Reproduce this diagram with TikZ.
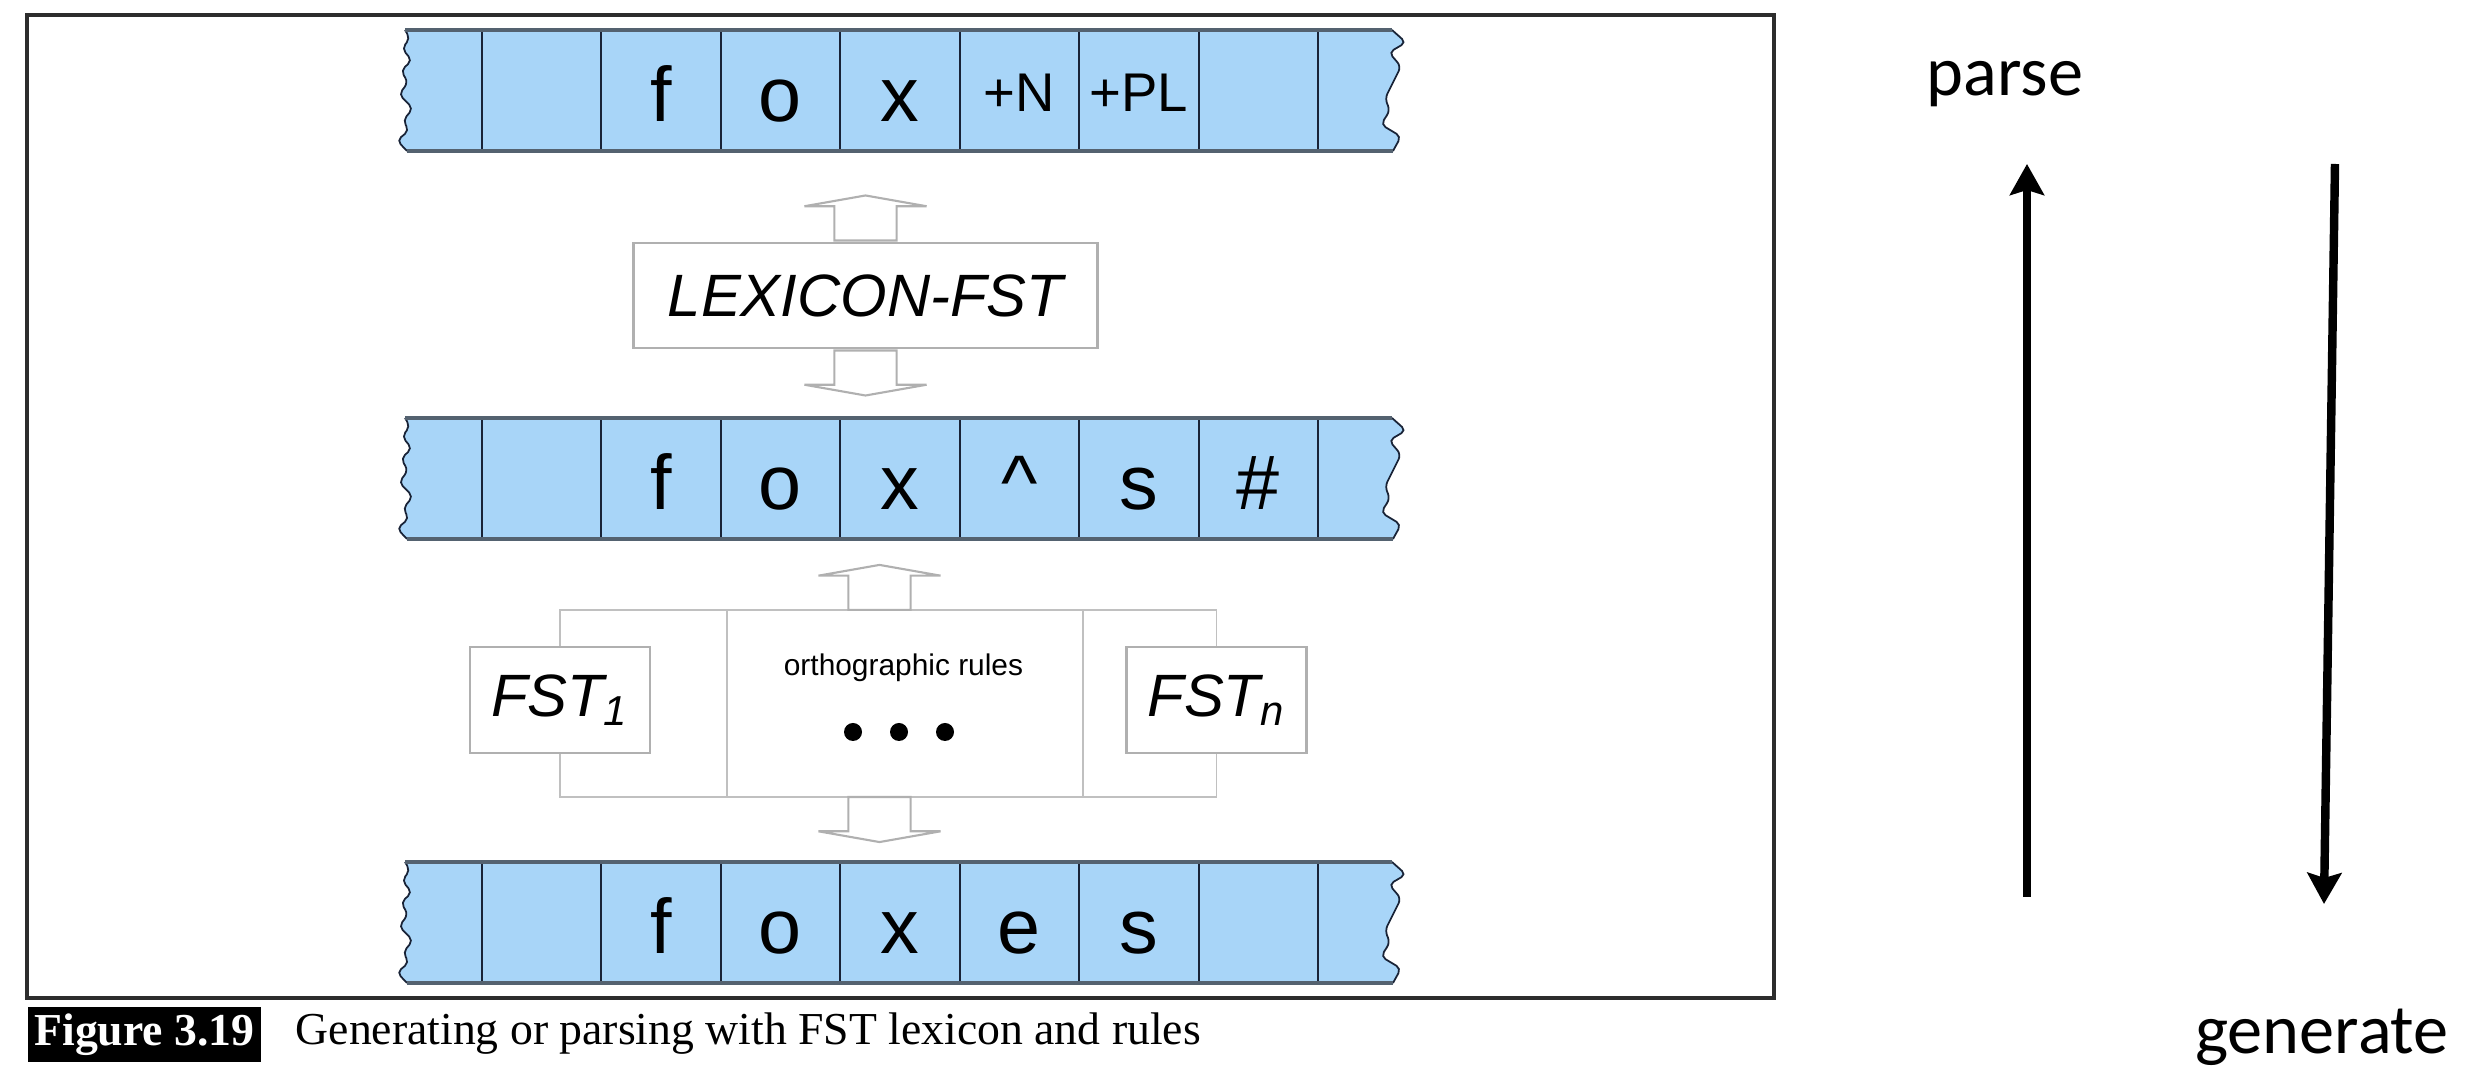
\documentclass[tikz,border=0pt]{standalone}
\usepackage{fontspec}
\setmainfont{Liberation Serif}
\newfontfamily\tapefont{Liberation Sans}
\newfontfamily\slidefont{Carlito}
\usetikzlibrary{shapes.arrows,arrows.meta}

\definecolor{tapeblue}{RGB}{168,213,248}
\definecolor{tapeedge}{RGB}{84,98,112}
\definecolor{cellline}{RGB}{25,35,55}
\definecolor{boxgray}{RGB}{176,176,176}
\definecolor{rulegray}{RGB}{192,192,192}
\definecolor{framegray}{RGB}{45,45,45}

\def\jagR{11/-48,-6/-38,6/-24,0/-12,-10/8,-5/20,-14/34,6/46}
\def\jagL{-8/50,4/40,-2/30,8/18,-6/4,3/-8,-4/-20,7/-30,-3/-42,5/-52}

\tikzset{
  sym/.style={font=\tapefont\fontsize{22}{22}\selectfont, anchor=base, inner sep=0pt},
  tag/.style={font=\tapefont\fontsize{15.5}{15.5}\selectfont, anchor=base, inner sep=0pt},
  fstbox/.style={draw=boxgray, line width=0.8pt, fill=white, inner sep=0pt,
    font=\tapefont\itshape\fontsize{17}{17}\selectfont},
  harrow/.style={single arrow, draw=boxgray, line width=0.6pt, inner xsep=0pt, inner ysep=0.3cm,
    single arrow head extend=0.3cm, single arrow tip angle=160, minimum height=0.45cm, anchor=tail},
  bracket/.style={draw=rulegray, line width=0.55pt},
  slide/.style={font=\slidefont\fontsize{20}{20}\selectfont, anchor=base, inner sep=0pt},
  bigarrow/.style={line width=2.4pt, -{Stealth[length=0.31cm, width=0.34cm, inset=0.05cm]}},
  pics/tape/.style={code={
    \fill[tapeblue, rounded corners=1.5pt] (-495,-60.5) -- (492,-60.5)
      \foreach \dx/\dy in \jagR {-- (495+\dx,\dy)} -- (493,60.5) -- (-493,60.5)
      \foreach \dx/\dy in \jagL {-- (-495+\dx,\dy)} -- cycle;
    \draw[cellline, line width=0.5pt, rounded corners=1.5pt] (492,-60.5)
      \foreach \dx/\dy in \jagR {-- (495+\dx,\dy)} -- (493,60.5);
    \draw[cellline, line width=0.5pt, rounded corners=1.5pt] (-493,60.5)
      \foreach \dx/\dy in \jagL {-- (-495+\dx,\dy)} -- (-495,-60.5);
    \foreach \i in {0,...,7}
      \draw[cellline, line width=0.6pt] ({(\i-3.5)*119.5},-60.5) -- ({(\i-3.5)*119.5},60.5);
    \draw[tapeedge, line width=1.3pt] (-495,-60.5) -- (492,-60.5) (-493,60.5) -- (493,60.5);
  }}
}

\begin{document}
\begin{tikzpicture}[x=0.01cm, y=-0.01cm]
  \useasboundingbox (0,0) rectangle (2465,1074);
  \draw[framegray, line width=0.9pt] (27,15) rectangle (1774,998);

  \pic at (900,90.5) {tape};
  \pic at (900,478.5) {tape};
  \pic at (900,922.5) {tape};

  \foreach \i/\s in {2/f,3/o,4/x}
    \node[sym] (lexT\i) at ({900+(\i-4)*119.5},122) {\s};
  \node[tag] (lexT5) at (1019.5,112) {+N};
  \node[tag] (lexT6) at (1139,112) {+PL};
  \foreach \i/\s in {2/f,3/o,4/x,5/\textasciicircum,6/s,7/{\#}}
    \node[sym] (intT\i) at ({900+(\i-4)*119.5},510) {\s};
  \foreach \i/\s in {2/f,3/o,4/x,5/e,6/s}
    \node[sym] (surT\i) at ({900+(\i-4)*119.5},954) {\s};

  \node[fstbox, minimum width=4.63cm, minimum height=1.05cm] (lex) at (865.5,295.5) {LEXICON-FST};
  \node[harrow, rotate=90] (lexup) at (lex.north) {};
  \node[harrow, rotate=-90] (lexdown) at (lex.south) {};

  \node[fstbox, minimum width=1.8cm, minimum height=1.06cm] (fst1) at (560,700) {FST\textsubscript{1}};
  \node[fstbox, minimum width=1.8cm, minimum height=1.06cm] (fstn) at (1216.5,700) {FST\textsubscript{n}};
  \draw[bracket] (fst1.north) -- ++(0,-36) -| (fstn.north);
  \draw[bracket] (fst1.south) -- ++(0,43) -| (fstn.south);
  \draw[bracket] (727,611) -- (727,796) (1083,611) -- (1083,796);
  \node[font=\tapefont\fontsize{8.5}{8.5}\selectfont, anchor=base, inner sep=0pt] (ortho) at (903.5,676) {orthographic rules};
  \foreach \x in {853,899,945}
    \fill (\x,732) circle[radius=0.09cm];
  \coordinate (ruletop) at (879.5,611);
  \coordinate (rulebot) at (879.5,796);
  \node[harrow, rotate=90] (ruleup) at (ruletop) {};
  \node[harrow, rotate=-90] (ruledown) at (rulebot) {};

  \node[fill=black, text=white, font=\bfseries\fontsize{13}{13}\selectfont, minimum width=2.33cm,
    minimum height=0.55cm, inner sep=0pt] (fig) at (144.5,1034.5) {Figure 3.19};
  \node[anchor=base west, font=\fontsize{13}{13}\selectfont, inner sep=0pt] (cap) at (295,1045)
    {Generating or parsing with FST lexicon and rules};

  \node[slide] (parse) at (2005,96) {parse};
  \node[slide] (gen) at (2322,1054) {generate};
  \coordinate (pbot) at (2027,897);
  \coordinate (ptop) at (2027,164);
  \coordinate (gtop) at (2335,164);
  \coordinate (gbot) at (2324,904);
  \draw[bigarrow] (pbot) -- (ptop);
  \draw[bigarrow] (gtop) -- (gbot);
\end{tikzpicture}
\end{document}
